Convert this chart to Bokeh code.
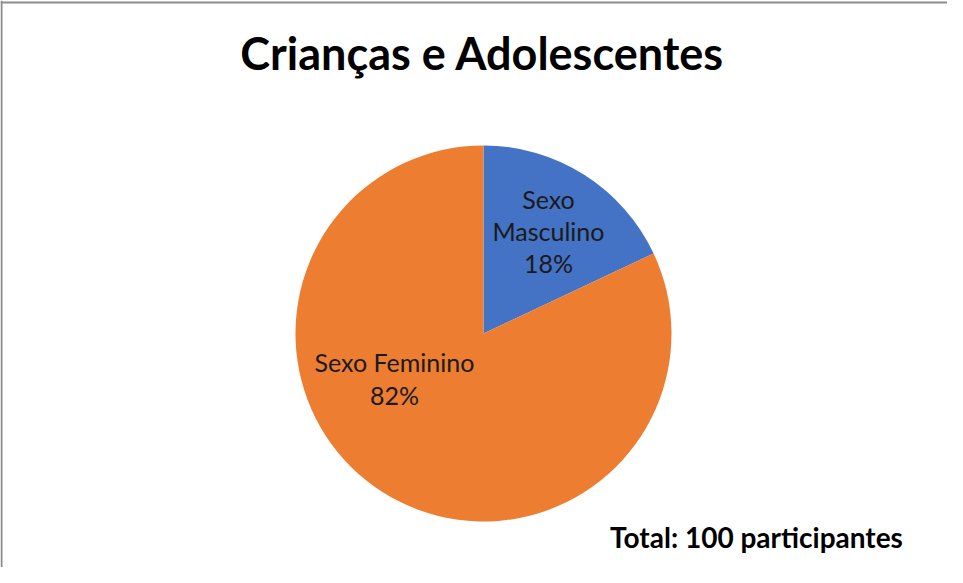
import numpy as np
from bokeh.plotting import figure
from bokeh.models import ColumnDataSource, Range1d, Span
from bokeh.core.properties import value
from bokeh.embed import file_html
from bokeh.resources import INLINE

# ---- data ----
categories = ["Sexo Masculino", "Sexo Feminino"]
shares = [18, 82]
colors = ["#4472C4", "#ED7D31"]
label_lines_masc = ["Sexo", "Masculino", "18%"]
label_lines_fem = ["Sexo Feminino", "82%"]
title_text = "Crianças e Adolescentes"
total_text = "Total: 100 participantes"

W, H = 947, 567
p = figure(width=W, height=H, output_backend="svg", toolbar_location=None,
           x_range=Range1d(0, W), y_range=Range1d(0, H), min_border=0)
p.axis.visible = False
p.grid.visible = False
p.outline_line_color = None
p.background_fill_color = "white"
p.border_fill_color = "white"

# pie
frac = np.array(shares, dtype=float) / sum(shares)
cum = np.concatenate([[0], np.cumsum(frac)])
start = np.pi / 2 - 2 * np.pi * cum[:-1]
end = np.pi / 2 - 2 * np.pi * cum[1:]
src = ColumnDataSource(dict(cat=categories, start=start, end=end, color=colors))
cx, cy, R = 483, 234, 188
p.wedge(x=cx, y=cy, radius=R, radius_units="screen", start_angle="start", end_angle="end",
        direction="clock", fill_color="color", line_color="white", line_width=0, line_alpha=0,
        source=src)

# labels
font = value("Lato")
p.text(x=[548] * 3, y=[369, 337, 305], text=label_lines_masc, text_font=font,
       text_font_size="25px", text_align="center", text_baseline="alphabetic",
       text_color="#1a1a1a")
p.text(x=[394] * 2, y=[206, 173], text=label_lines_fem, text_font=font,
       text_font_size="25px", text_align="center", text_baseline="alphabetic",
       text_color="#1a1a1a")

# title
p.text(x=[482], y=[515], text=[title_text], text_font=font, text_font_style="bold",
       text_font_size="45px", text_align="center", text_baseline="alphabetic",
       text_color="black")
# total
p.text(x=[756], y=[31], text=[total_text], text_font=font, text_font_style="bold",
       text_font_size="28px", text_align="center", text_baseline="alphabetic",
       text_color="black")

# chart-area border (top and left visible in the crop)
p.add_layout(Span(location=1, dimension="height", line_color="#8c8c8c", line_width=2))
p.add_layout(Span(location=565, dimension="width", line_color="#8c8c8c", line_width=2))

open("out.html", "w").write(file_html(p, INLINE))
